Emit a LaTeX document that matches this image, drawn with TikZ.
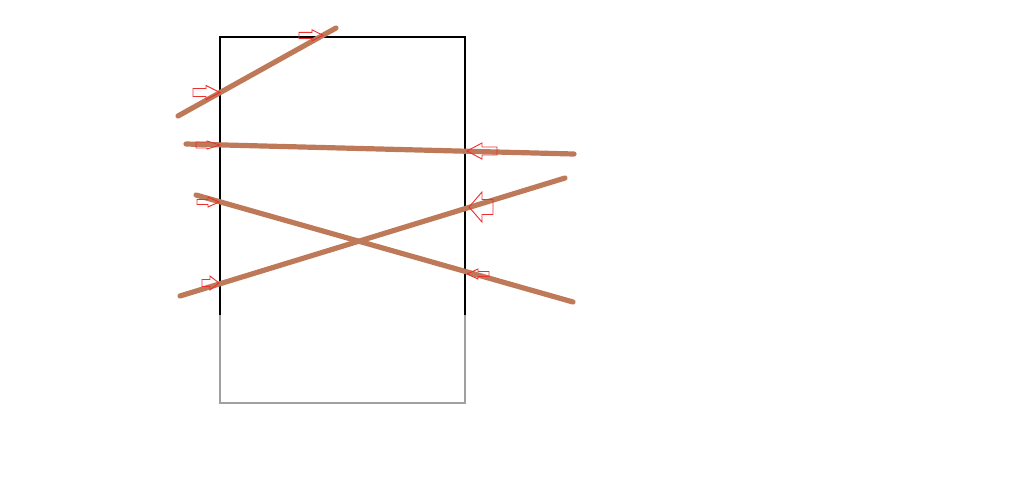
\documentclass[tikz,border=0pt]{standalone}
\usepackage{tikz}

\tikzset{every picture/.style={line width=0.75pt}}
\tikzset{
  brush/.style={draw={rgb, 255:red, 189; green, 121; blue, 88}, line width=3.9pt, line cap=round},
  hollow/.style={draw={rgb, 255:red, 236; green, 48; blue, 48}, line width=0.7pt, line join=miter},
  frame/.style={line width=1.5pt}
}

\begin{document}
\begin{tikzpicture}[x=0.75pt,y=0.75pt,yscale=-1,xscale=1]
        \useasboundingbox (0,0) rectangle (1024,480);
        % frame
        \draw [frame, draw={rgb, 255:red, 160; green, 160; blue, 160}]  (220,315) -- (220,403) -- (465,403) -- (465,315) ;
        \draw [frame]  (220,315) -- (220,37) -- (465,37) -- (465,315) ;
        % strokes
        \draw [brush]  (178,116) -- (336,28) ;
        \draw [brush]  (186,144) -- (574,154) ;
        \draw [brush]  (196,195) -- (573,302) ;
        \draw [brush]  (180,296) -- (565,178) ;
        % arrows pointing right
        \draw [hollow]  (193,88.5) -- (206,88.5) -- (206,85.5) -- (220,92.5) -- (206,99.5) -- (206,96.5) -- (193,96.5) -- cycle ;
        \draw [hollow]  (299,32.3) -- (312,32.3) -- (312,29.8) -- (323,35.3) -- (312,40.8) -- (312,38.3) -- (299,38.3) -- cycle ;
        \draw [hollow]  (196,142) -- (207,142) -- (207,141) -- (220,145) -- (207,149) -- (207,148) -- (196,148) -- cycle ;
        \draw [hollow]  (197,199.5) -- (208,199.5) -- (208,197) -- (219,202) -- (208,207) -- (208,204.5) -- (197,204.5) -- cycle ;
        \draw [hollow]  (202,279.5) -- (210,279.5) -- (210,276) -- (219,283) -- (210,290) -- (210,286.5) -- (202,286.5) -- cycle ;
        % arrows pointing left
        \draw [hollow]  (497,147) -- (482,147) -- (482,143) -- (467,151) -- (482,159) -- (482,155) -- (497,155) -- cycle ;
        \draw [hollow]  (493,199.5) -- (482,199.5) -- (482,192) -- (469,207) -- (482,222) -- (482,214.5) -- (493,214.5) -- cycle ;
        \draw [hollow]  (489,271.5) -- (478,271.5) -- (478,269) -- (467,274) -- (478,279) -- (478,276.5) -- (489,276.5) -- cycle ;
\end{tikzpicture}
\end{document}
